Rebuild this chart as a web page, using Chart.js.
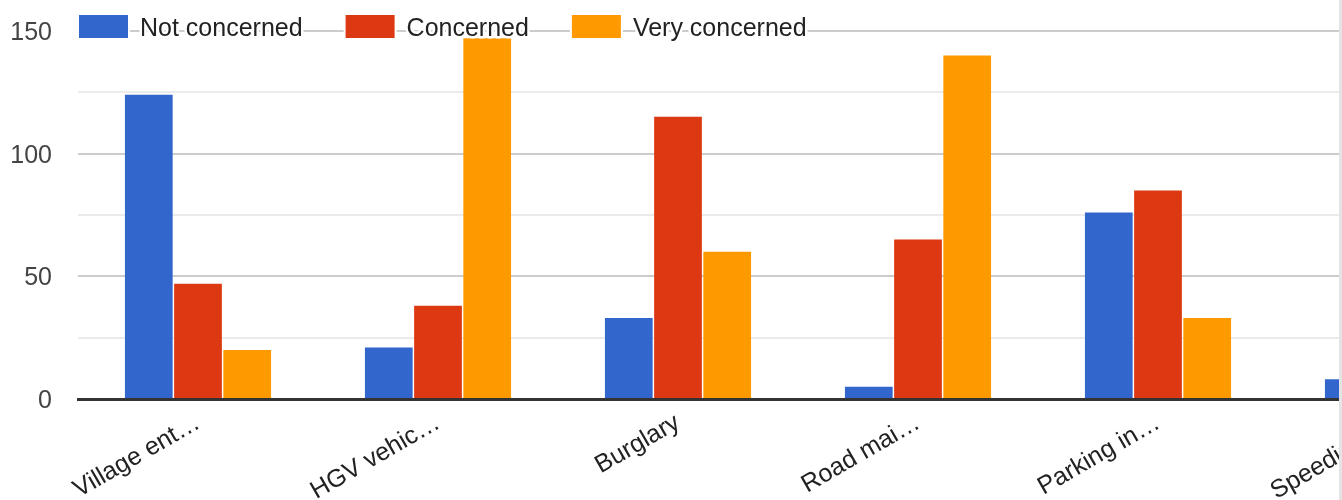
<!DOCTYPE html>
<html>
<head>
<meta charset="utf-8">
<script src="https://cdn.jsdelivr.net/npm/chart.js@4.4.1/dist/chart.umd.min.js"></script>
<style>
  body { margin: 0; background: #fff; }
  #wrap { width: 1339px; height: 500px; overflow: hidden; position: relative; border-right: 3px solid #e4e4e4; }
  #issueChart { display: block; }
</style>
</head>
<body>
<div id="wrap">
  <canvas id="issueChart" width="1520" height="500"></canvas>
</div>
<script>
// data (last category is cut off at the right edge)
const categories = ['Village ent\u2026', 'HGV vehic\u2026', 'Burglary', 'Road mai\u2026', 'Parking in\u2026', 'Speeding t\u2026'];
const notConcerned = [124, 21, 33, 5, 76, 8];
const concerned = [47, 38, 115, 65, 85, null];
const veryConcerned = [20, 147, 60, 140, 33, null];
const yTicks = [0, 50, 100, 150];

const FONT = 'Arial, "Liberation Sans", sans-serif';

// legend drawn over the plot, like the original
const topLegend = {
    id: 'topLegend',
    afterDraw(chart) {
        const ctx = chart.ctx;
        ctx.save();
        ctx.font = '25px ' + FONT;
        ctx.textBaseline = 'alphabetic';
        let x = 79;
        chart.data.datasets.forEach(function(ds) {
            ctx.fillStyle = '#fff';
            ctx.fillRect(x - 2, 13, 53, 27);
            ctx.fillStyle = ds.backgroundColor;
            ctx.fillRect(x, 15, 49, 23);
            const tx = x + 61;
            ctx.lineWidth = 5;
            ctx.lineJoin = 'round';
            ctx.strokeStyle = '#fff';
            ctx.strokeText(ds.label, tx, 36);
            ctx.fillStyle = '#222';
            ctx.fillText(ds.label, tx, 36);
            x = tx + ctx.measureText(ds.label).width + 43;
        });
        ctx.restore();
    }
};

document.addEventListener('DOMContentLoaded', function() {
    const ctx = document.getElementById('issueChart').getContext('2d');
    new Chart(ctx, {
        type: 'bar',
        data: {
            labels: categories,
            datasets: [
                { label: 'Not concerned', data: notConcerned, backgroundColor: '#3366cc' },
                { label: 'Concerned', data: concerned, backgroundColor: '#dc3912' },
                { label: 'Very concerned', data: veryConcerned, backgroundColor: '#ff9900' }
            ]
        },
        options: {
            responsive: false,
            animation: false,
            layout: { padding: { top: 31, right: 2, left: 0, bottom: 0 } },
            datasets: {
                bar: { categoryPercentage: 0.615, barPercentage: 0.97 }
            },
            plugins: {
                legend: { display: false },
                tooltip: { enabled: false }
            },
            scales: {
                x: {
                    grid: { display: false },
                    border: { display: true, color: '#333', width: 3 },
                    ticks: {
                        autoSkip: false,
                        minRotation: 30,
                        maxRotation: 30,
                        padding: 1,
                        color: '#222',
                        font: { family: FONT, size: 25 }
                    },
                    afterFit: function(scale) {
                        scale.height = 101;
                        scale.paddingLeft = 0;
                        scale.paddingRight = 0;
                    }
                },
                y: {
                    min: 0,
                    max: 150,
                    border: { display: false },
                    grid: {
                        drawTicks: false,
                        lineWidth: 2,
                        color: function(c) {
                            return yTicks.includes(c.tick.value) ? '#cccccc' : '#ebebeb';
                        }
                    },
                    ticks: {
                        stepSize: 25,
                        padding: 26,
                        labelOffset: 2,
                        color: '#444',
                        font: { family: FONT, size: 25 },
                        callback: function(v) { return yTicks.includes(v) ? v : ''; }
                    },
                    afterFit: function(scale) {
                        scale.width = 78;
                        scale.paddingTop = 0;
                        scale.paddingBottom = 0;
                    }
                }
            }
        },
        plugins: [topLegend]
    });
});
</script>
</body>
</html>
